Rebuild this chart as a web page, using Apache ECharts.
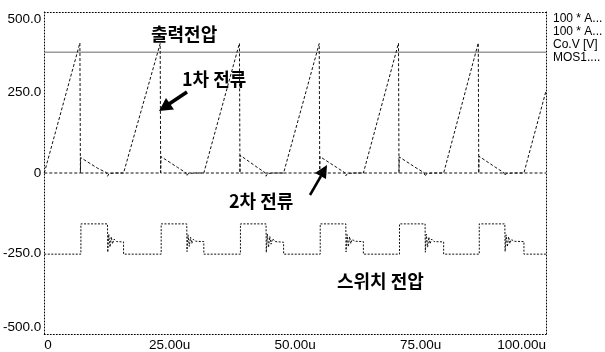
<!DOCTYPE html>
<html>
<head>
<meta charset="utf-8">
<script src="https://cdn.jsdelivr.net/npm/echarts@6/dist/echarts.min.js"></script>
<style>
  html, body { margin: 0; padding: 0; background: #fff; }
  #chart { width: 605px; height: 352px; }
</style>
</head>
<body>
<div id="chart"></div>
<script>
// Axis ticks
const timeTicks = [0, 25, 50, 75, 100];          // µs
const levelTicks = [-500, -250, 0, 250, 500];

// Trace names and their legend captions
const traceNames = ['Ip', 'Is', 'Vo', 'Vsw'];
const traceCaptions = ['100 * A...', '100 * A...', 'Co.V [V]', 'MOS1....'];

// Primary current x100, [time µs, value]
const primaryCurrent = [
  [0, 0], [0.3, 0], [7.1, 404], [7.2, 0],
  [15.8, 0], [23.1, 402], [23.2, 0],
  [31.8, 0], [38.9, 403], [39.0, 0],
  [47.7, 0], [54.8, 402], [54.9, 0],
  [63.6, 0], [70.6, 403], [70.7, 0],
  [79.6, 0], [86.5, 404], [86.6, 0],
  [95.6, 0], [100, 255]
];

// Secondary current x100
const secondaryCurrent = [
  [0, 0],
  [7.2, 0], [7.25, 48], [10.6, 15], [12.4, 1], [12.6, -10], [12.95, -1], [13.3, -6], [13.6, -1], [14.0, 0],
  [23.2, 0], [23.25, 51], [26.6, 17], [28.2, 1], [28.4, -9], [28.75, -1], [29.1, -5], [29.4, -1], [29.8, 0],
  [39.0, 0], [39.05, 55], [42.4, 18], [44.0, 1], [44.2, -10], [44.55, -1], [44.9, -6], [45.2, -1], [45.6, 0],
  [54.9, 0], [54.95, 51], [58.3, 17], [59.9, 1], [60.1, -9], [60.45, -1], [60.8, -6], [61.1, -1], [61.5, 0],
  [70.7, 0], [70.75, 50], [74.1, 16], [75.7, 1], [75.9, -10], [76.25, -1], [76.6, -5], [76.9, -1], [77.3, 0],
  [86.6, 0], [86.65, 52], [90.0, 17], [91.6, 1], [91.8, -8], [92.15, -1], [92.5, -6], [92.8, -1], [93.2, 0],
  [100, 0]
];

// Output capacitor voltage
const outputVoltage = [[0, 375], [100, 375]];

// Switch drain voltage (offset trace)
const switchVoltage = [
  [0, -252], [7.3, -252], [7.3, -158], [12.6, -158],
  [12.65, -246], [12.85, -190], [13.1, -230], [13.35, -198], [13.6, -220], [13.9, -205], [14.4, -213], [15.8, -214], [15.8, -252],
  [23.3, -252], [23.3, -158], [28.4, -158],
  [28.45, -244], [28.65, -192], [28.9, -228], [29.15, -199], [29.4, -219], [29.7, -206], [30.2, -212], [31.8, -213], [31.8, -252],
  [39.1, -252], [39.1, -158], [44.2, -158],
  [44.25, -247], [44.45, -189], [44.7, -231], [44.95, -197], [45.2, -221], [45.5, -204], [46.0, -213], [47.7, -215], [47.7, -252],
  [55.0, -252], [55.0, -158], [60.1, -158],
  [60.15, -245], [60.35, -191], [60.6, -229], [60.85, -198], [61.1, -219], [61.4, -206], [61.9, -212], [63.6, -213], [63.6, -252],
  [70.8, -252], [70.8, -158], [75.9, -158],
  [75.95, -246], [76.15, -190], [76.4, -230], [76.65, -199], [76.9, -220], [77.2, -205], [77.7, -213], [79.6, -214], [79.6, -252],
  [86.7, -252], [86.7, -158], [91.8, -158],
  [91.85, -244], [92.05, -192], [92.3, -229], [92.55, -198], [92.8, -219], [93.1, -206], [93.6, -212], [95.6, -213], [95.6, -252],
  [100, -252]
];

const axisFont = { fontFamily: 'Liberation Sans, Arial, sans-serif', fontSize: 13.5, color: '#000' };
const dotted = { color: '#000', width: 1, type: [1, 2] };
const noteFont = '"Noto Sans CJK KR", sans-serif';

const chart = echarts.init(document.getElementById('chart'), null, { renderer: 'canvas' });

function trace(name, data, style) {
  return {
    name, type: 'line', data, xAxisIndex: 0, yAxisIndex: 0,
    showSymbol: false, symbol: 'none', animation: false, silent: true,
    lineStyle: style
  };
}

const captionOf = {};
traceNames.forEach((n, i) => { captionOf[n] = traceCaptions[i]; });

chart.setOption({
  backgroundColor: '#fff',
  animation: false,
  grid: { left: 44, right: 59, top: 12, bottom: 17, containLabel: false },
  legend: {
    data: traceNames,
    orient: 'vertical',
    left: 543, top: 7,
    icon: 'none', itemWidth: 0, itemHeight: 14, itemGap: 0,
    selectedMode: false,
    formatter: n => captionOf[n],
    textStyle: { fontFamily: 'Liberation Sans, Arial, sans-serif', fontSize: 12, color: '#000' }
  },
  xAxis: [
    {
      type: 'value', min: 0, max: 100, position: 'bottom',
      axisLine: { show: true, onZero: false, lineStyle: dotted },
      axisTick: { show: false }, splitLine: { show: false },
      axisLabel: {
        ...axisFont, margin: 4,
        customValues: timeTicks,
        alignMinLabel: 'left', alignMaxLabel: 'right',
        formatter: v => v === 0 ? '0' : v.toFixed(2) + 'u'
      }
    },
    {
      type: 'value', min: 0, max: 100, position: 'top',
      axisLine: { show: true, onZero: false, lineStyle: dotted },
      axisTick: { show: false }, splitLine: { show: false }, axisLabel: { show: false }
    }
  ],
  yAxis: [
    {
      type: 'value', min: -500, max: 500, position: 'left',
      axisLine: { show: true, onZero: false, lineStyle: dotted },
      axisTick: { show: false }, splitLine: { show: false },
      axisLabel: {
        ...axisFont, margin: 3,
        customValues: levelTicks,
        verticalAlignMinLabel: 'bottom', verticalAlignMaxLabel: 'top',
        formatter: v => v === 0 ? '0' : v.toFixed(1)
      }
    },
    {
      type: 'value', min: -500, max: 500, position: 'right',
      axisLine: { show: true, onZero: false, lineStyle: dotted },
      axisTick: { show: false }, splitLine: { show: false }, axisLabel: { show: false }
    }
  ],
  series: [
    trace('Vo', outputVoltage, { color: '#9a9a9a', width: 1.5, type: 'solid' }),
    trace('Ip', primaryCurrent, { color: '#111', width: 1, type: [3, 2] }),
    trace('Is', secondaryCurrent, { color: '#111', width: 1, type: [3, 2] }),
    trace('Vsw', switchVoltage, { color: '#111', width: 1, type: [2, 1.5] })
  ],
  graphic: [
    { type: 'text', left: 151, top: 25, style: { text: '출력전압', font: 'bold 18px ' + noteFont, fill: '#000' } },
    { type: 'text', left: 182, top: 70, style: { text: '1차 전류', font: 'bold 18px ' + noteFont, fill: '#000' } },
    { type: 'text', left: 229, top: 192, style: { text: '2차 전류', font: 'bold 18px ' + noteFont, fill: '#000' } },
    { type: 'text', left: 337, top: 272, style: { text: '스위치 전압', font: 'bold 18px ' + noteFont, fill: '#000' } },
    // arrow toward the primary current trace
    { type: 'line', shape: { x1: 187, y1: 92, x2: 169, y2: 104 }, style: { stroke: '#000', lineWidth: 3.5 } },
    { type: 'polygon', shape: { points: [[159, 111], [174, 109.5], [166, 98]] }, style: { fill: '#000' } },
    // arrow toward the secondary current trace
    { type: 'line', shape: { x1: 310, y1: 195, x2: 321, y2: 176 }, style: { stroke: '#000', lineWidth: 2.5 } },
    { type: 'polygon', shape: { points: [[327, 165], [326, 179], [315, 173]] }, style: { fill: '#000' } }
  ]
});
</script>
</body>
</html>
